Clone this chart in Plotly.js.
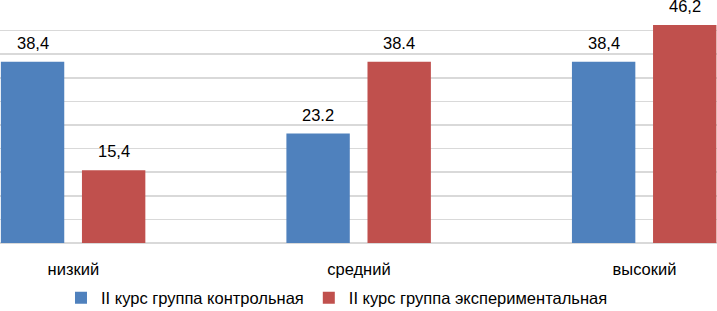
<!DOCTYPE html>
<html>
<head>
<meta charset="utf-8">
<script src="https://cdn.plot.ly/plotly-3.0.1.min.js"></script>
<style>html,body{margin:0;padding:0;background:#fff;}#chart{width:717px;height:311px;}</style>
</head>
<body>
<div id="chart"></div>
<script>
const categories = ["низкий", "средний", "высокий"];
const seriesNames = ["II курс группа контрольная", "II курс группа экспериментальная"];
const controlValues = [38.4, 23.2, 38.4];
const experimentalValues = [15.4, 38.4, 46.2];
const controlLabels = ["38,4", "23.2", "38,4"];
const experimentalLabels = ["15,4", "38.4", "46,2"];

const BAR_W = 0.222;
const OFF_A = -0.254, OFF_B = 0.030;
const FONT = "Liberation Sans, Arial, sans-serif";
const FS = 16.5;

const traces = [
  {type: "bar", name: seriesNames[0], x: categories, y: controlValues,
   width: BAR_W, offset: OFF_A, marker: {color: "#4F81BD"}, hoverinfo: "none"},
  {type: "bar", name: seriesNames[1], x: categories, y: experimentalValues,
   width: BAR_W, offset: OFF_B, marker: {color: "#C0504D"}, hoverinfo: "none"}
];

const annotations = [];
categories.forEach((c, i) => {
  annotations.push({x: i + OFF_A + BAR_W / 2, y: controlValues[i], xref: "x", yref: "y",
    text: controlLabels[i], showarrow: false, yanchor: "bottom", yshift: 8,
    font: {family: FONT, size: FS, color: "#000"}});
  annotations.push({x: i + OFF_B + BAR_W / 2, y: experimentalValues[i], xref: "x", yref: "y",
    text: experimentalLabels[i], showarrow: false, yanchor: "bottom", yshift: 8,
    font: {family: FONT, size: FS, color: "#000"}});
});

const layout = {
  width: 717, height: 311,
  margin: {l: 0, r: 0, t: 7, b: 68},
  paper_bgcolor: "#fff", plot_bgcolor: "#fff",
  barmode: "group",
  showlegend: true,
  legend: {orientation: "h", xref: "container", yref: "container", x: 0.47, xanchor: "center",
    y: 0.042, yanchor: "middle",
    font: {family: FONT, size: FS, color: "#000"}, itemwidth: 30},
  xaxis: {type: "category", range: [-0.257, 2.254], showgrid: false, zeroline: false,
    showline: false, ticks: "", ticklabelstandoff: 14,
    tickfont: {family: FONT, size: FS, color: "#000"}},
  yaxis: {range: [0, 50], dtick: 5, showgrid: true, gridcolor: "#d9d9d9", gridwidth: 1.5,
    showticklabels: false, zeroline: true, zerolinecolor: "#d9d9d9", zerolinewidth: 1.5, fixedrange: true},
  annotations: annotations,
  font: {family: FONT}
};

Plotly.newPlot("chart", traces, layout, {displayModeBar: false, staticPlot: true});
</script>
</body>
</html>
